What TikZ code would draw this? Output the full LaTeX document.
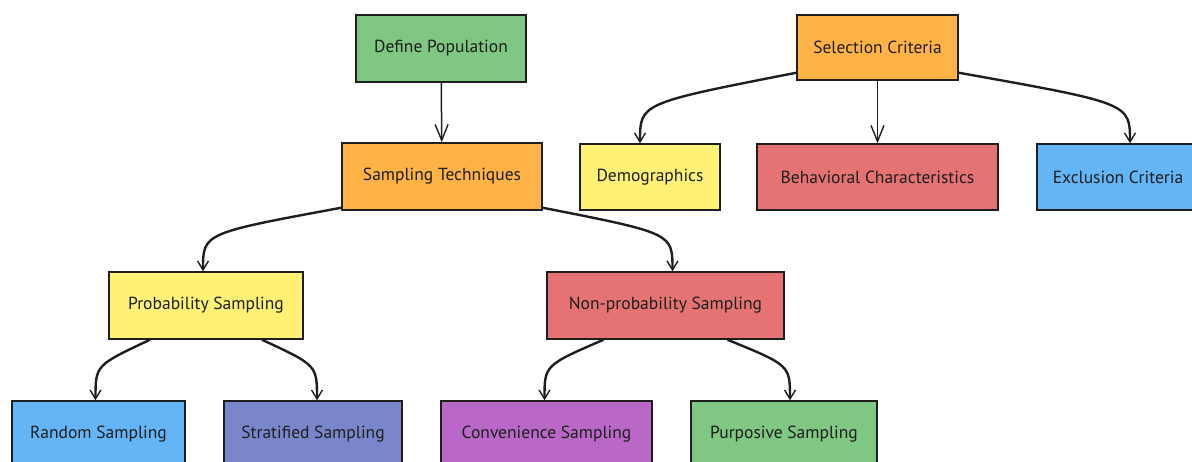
\documentclass[tikz,border=0pt]{standalone}
\usepackage{fontspec}
\setmainfont{PT Sans}
\usetikzlibrary{arrows.meta,calc}

\definecolor{popgreen}{HTML}{80C783}
\definecolor{techorange}{HTML}{FFB347}
\definecolor{demoyellow}{HTML}{FFF176}
\definecolor{behavred}{HTML}{E57373}
\definecolor{exclblue}{HTML}{64B5F6}
\definecolor{stratindigo}{HTML}{7986CB}
\definecolor{convpurple}{HTML}{BA68C8}
\definecolor{ink}{HTML}{1E1E1E}

\tikzset{
  box/.style={draw=ink, line width=1.5pt, rectangle, inner sep=0pt,
    minimum height=67pt, text=ink, font=\fontsize{17.5}{21}\selectfont},
  edge/.style={draw=ink, line width=2.4pt,
    -{Straight Barb[length=9pt,width=11pt,line width=1.4pt]}},
  straightedge/.style={draw=ink, line width=1.5pt,
    -{Straight Barb[length=16pt,width=13pt,line width=1.4pt]}}
}

\begin{document}
\begin{tikzpicture}[x=1pt,y=-1pt]
  \useasboundingbox (0,0) rectangle (1192,462);

  % top level
  \node[box, fill=popgreen, minimum width=170pt] (pop) at (441,48.5) {Define Population};
  \node[box, fill=techorange, minimum width=200pt] (tech) at (442,176.5) {Sampling Techniques};
  \node[box, fill=techorange, minimum width=161pt, minimum height=65pt] (crit) at (877.5,47.5) {Selection Criteria};

  % criteria row
  \node[box, fill=demoyellow, minimum width=140pt, minimum height=66pt] (demo) at (650,177) {Demographics};
  \node[box, fill=behavred, minimum width=241pt, minimum height=66pt] (behav) at (877.5,177) {Behavioral Characteristics};
  \node[box, fill=exclblue, minimum width=162pt, minimum height=66pt] (excl) at (1118,177) {Exclusion Criteria};

  % sampling families
  \node[box, fill=demoyellow, minimum width=194pt] (prob) at (206,305.5) {Probability Sampling};
  \node[box, fill=behavred, minimum width=237pt] (nonprob) at (665.5,305.5) {Non-probability Sampling};

  % methods
  \node[box, fill=exclblue, minimum width=173pt] (rand) at (98.5,434.5) {Random Sampling};
  \node[box, fill=stratindigo, minimum width=178pt] (strat) at (313,434.5) {Stratified Sampling};
  \node[box, fill=convpurple, minimum width=211pt] (conv) at (546.5,434.5) {Convenience Sampling};
  \node[box, fill=popgreen, minimum width=186pt] (purp) at (784,434.5) {Purposive Sampling};

  % connectors
  \draw[straightedge] (pop) -- (tech);
  \draw[straightedge] (crit) -- (behav);

  \draw[edge] ([yshift=3pt]tech.south west) .. controls ($(prob.north)+(-3,-38)$) .. ([xshift=-3pt]prob.north);
  \draw[edge] ([yshift=3pt]tech.south east) .. controls ($(nonprob.north)+(7,-38)$) .. ([xshift=7pt]nonprob.north);

  \draw[edge] ([yshift=8pt]crit.south west) .. controls ($(demo.north)+(-10,-40)$) .. ([xshift=-10pt]demo.north);
  \draw[edge] ([yshift=8pt]crit.south east) .. controls ($(excl.north)+(12,-40)$) .. ([xshift=12pt]excl.north);

  \draw[edge] ([xshift=-56pt]prob.south) .. controls ($(rand.north)+(-3,-35)$) .. ([xshift=-3pt]rand.north);
  \draw[edge] ([xshift=56pt]prob.south) .. controls ($(strat.north)+(4,-35)$) .. ([xshift=4pt]strat.north);

  \draw[edge] ([xshift=-62pt]nonprob.south) .. controls ($(conv.north)+(-2,-35)$) .. ([xshift=-2pt]conv.north);
  \draw[edge] ([xshift=62pt]nonprob.south) .. controls ($(purp.north)+(6,-35)$) .. ([xshift=6pt]purp.north);
\end{tikzpicture}
\end{document}
